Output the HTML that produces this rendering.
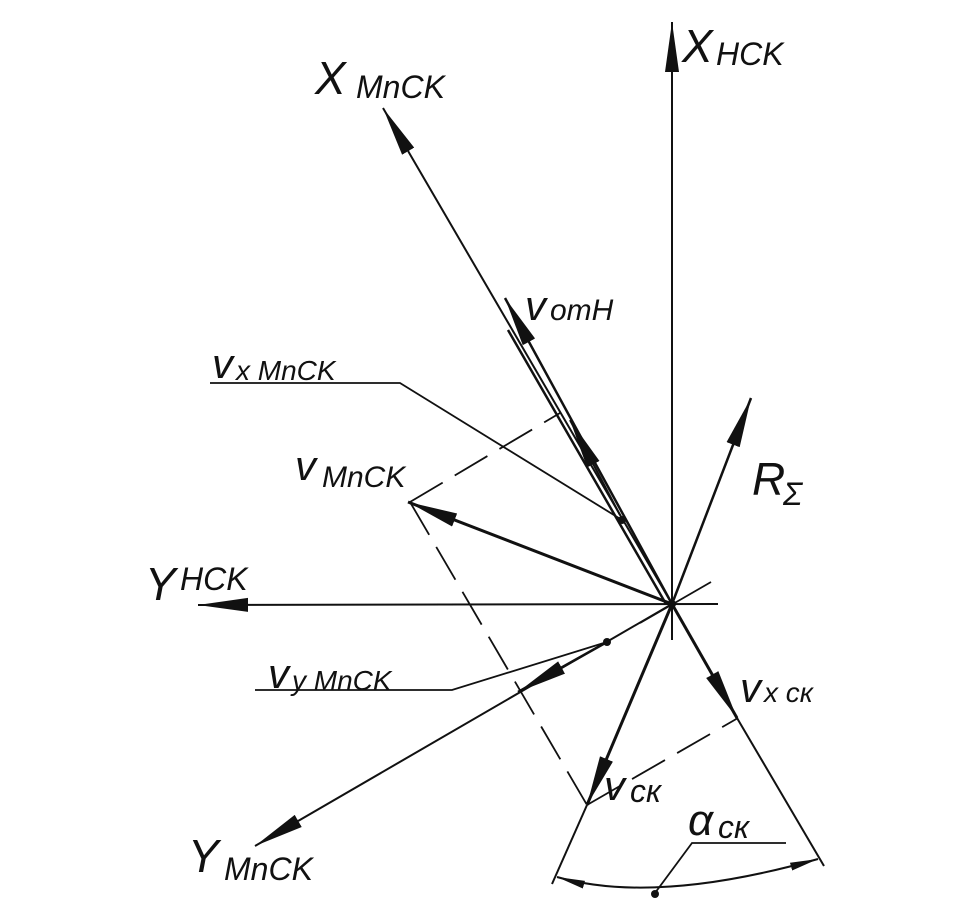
<!DOCTYPE html>
<html><head><meta charset="utf-8"><style>
html,body{margin:0;padding:0;background:#fff;}
svg{display:block}
text{font-family:"Liberation Sans",sans-serif;font-style:italic;fill:#111}
</style></head><body>
<svg width="980" height="915" viewBox="0 0 980 915" xmlns="http://www.w3.org/2000/svg">
<defs>
<marker id="a" markerUnits="userSpaceOnUse" markerWidth="52" markerHeight="16" refX="50" refY="8" orient="auto">
<path d="M0,1 L50,8 L0,15 Z" fill="#111"/></marker>
<marker id="s" markerUnits="userSpaceOnUse" markerWidth="30" markerHeight="10" refX="28" refY="5" orient="auto-start-reverse">
<path d="M0,1 L28,5 L0,9 Z" fill="#111"/></marker>
</defs>
<g stroke="#111" fill="none">
<line x1="672" y1="640" x2="672" y2="22" stroke-width="2" marker-end="url(#a)"/>
<line x1="718" y1="604" x2="198" y2="605" stroke-width="2" marker-end="url(#a)"/>
<line x1="672" y1="604" x2="383" y2="108" stroke-width="2" marker-end="url(#a)"/>
<line x1="672" y1="604" x2="255" y2="846" stroke-width="2" marker-end="url(#a)"/>
<line x1="640" y1="623" x2="711" y2="582" stroke-width="1.8"/>
<line x1="672" y1="604" x2="505" y2="298" stroke-width="2.5" marker-end="url(#a)"/>
<line x1="666" y1="604" x2="508" y2="330" stroke-width="2.5"/>
<line x1="620" y1="515" x2="570" y2="420" stroke-width="2" marker-end="url(#a)"/>
<line x1="672" y1="604" x2="751" y2="398" stroke-width="2.5" marker-end="url(#a)"/>
<line x1="672" y1="604" x2="408" y2="502" stroke-width="3" marker-end="url(#a)"/>
<line x1="672" y1="604" x2="587" y2="805" stroke-width="3" marker-end="url(#a)"/>
<line x1="672" y1="604" x2="737" y2="718" stroke-width="3" marker-end="url(#a)"/>
<line x1="607" y1="642" x2="518" y2="692" stroke-width="2.5" marker-end="url(#a)"/>
<line x1="587" y1="805" x2="552" y2="884" stroke-width="2"/>
<line x1="737" y1="718" x2="824" y2="866" stroke-width="2"/>
<line x1="410" y1="502" x2="587" y2="805" stroke-width="1.8" stroke-dasharray="38,14"/>
<line x1="410" y1="502" x2="560" y2="413" stroke-width="1.8" stroke-dasharray="38,14"/>
<line x1="587" y1="805" x2="738" y2="718" stroke-width="1.8" stroke-dasharray="38,14"/>
<polyline points="210,383 400,383 622,520" stroke-width="1.8"/>
<polyline points="255,690 452,690 607,642" stroke-width="1.8"/>
<polyline points="655,893 692,843 786,843" stroke-width="1.8"/>
<path d="M557,877 Q655,905 818,859" stroke-width="2" marker-start="url(#s)" marker-end="url(#s)"/>
</g>
<g fill="#111">
<circle cx="622" cy="520" r="4"/>
<circle cx="607" cy="642" r="4"/>
<circle cx="655" cy="894" r="4"/>
<circle cx="672" cy="604" r="4"/>
</g>
<text x="682" y="62" font-size="46">X</text><text x="716" y="65" font-size="32">HCK</text>
<text x="315" y="94" font-size="46">X</text><text x="356" y="98" font-size="32">MnCK</text>
<text x="145" y="600" font-size="46">Y</text><text x="180" y="590" font-size="32">HCK</text>
<text x="188" y="872" font-size="46">Y</text><text x="224" y="880" font-size="32">MnCK</text>
<text x="525" y="320" font-size="42">v</text><text x="550" y="320" font-size="30">omH</text>
<text x="212" y="378" font-size="42">v</text><text x="236" y="380" font-size="28">x MnCK</text>
<text x="295" y="480" font-size="42">v</text><text x="322" y="487" font-size="30">MnCK</text>
<text x="752" y="495" font-size="46">R</text><text x="783" y="505" font-size="32">Σ</text>
<text x="268" y="688" font-size="42">v</text><text x="292" y="690" font-size="28">y MnCK</text>
<text x="740" y="702" font-size="42">v</text><text x="764" y="702" font-size="28">x ск</text>
<text x="604" y="800" font-size="42">v</text><text x="630" y="802" font-size="32">ск</text>
<text x="688" y="835" font-size="44">α</text><text x="718" y="838" font-size="32">ск</text>
</svg>
</body></html>
